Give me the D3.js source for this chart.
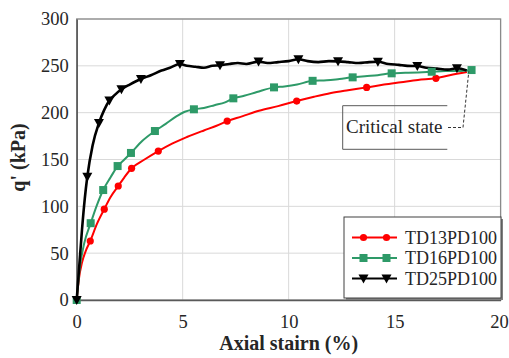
<!DOCTYPE html>
<html>
<head>
<meta charset="utf-8">
<script src="https://cdn.jsdelivr.net/npm/d3@7"></script>
<style>
  body { margin: 0; background: #ffffff; }
  svg { display: block; }
</style>
</head>
<body>
<svg id="chart" width="509" height="358"></svg>
<script>
// Axis ticks
const xTicks = [0, 5, 10, 15, 20];
const yTicks = [0, 50, 100, 150, 200, 250, 300];

// Series names and colours
const seriesNames = ['TD13PD100', 'TD16PD100', 'TD25PD100'];
const seriesColors = ['#ff0000', '#2e9a68', '#000000'];

// TD13PD100 - curve points [axial strain %, q' kPa] and marker points
const td13Curve = [[0,0],[0.1,22],[0.25,40],[0.42,52],[0.64,63],[0.95,81],[1.3,97],[1.6,110],[1.96,121.7],
  [2.25,131],[2.59,140.6],[3.2,150],[3.85,159],[4.5,167],[5.2,174],[6.0,181],[6.6,186],[7.1,191],[7.8,196],
  [8.6,202],[9.5,207],[10.38,212.4],[11.2,217],[12.0,221],[12.8,224],[13.68,227],[14.5,230],[15.3,232.5],
  [16.1,235],[16.95,236.7],[17.6,240],[18.41,243.4]];
const td13Markers = [[0,0],[0.64,63],[1.3,97],[1.96,121.7],[2.59,140.6],[3.85,159],[7.1,191],[10.38,212.4],
  [13.68,227],[16.95,236.7]];

// TD16PD100
const td16Curve = [[0,0],[0.15,35],[0.35,60],[0.66,82],[0.95,101],[1.25,117.4],[1.6,131],[1.93,143],[2.25,150],
  [2.56,157],[3.1,170],[3.69,180.4],[4.2,188],[4.7,196],[5.1,201],[5.53,203.6],[6.0,205],[6.5,208],[7.0,211],
  [7.39,215.3],[7.9,218],[8.5,222],[9.31,227],[9.8,228],[10.4,230],[11.13,234],[11.8,234.5],[12.4,236],
  [13.02,237.7],[13.6,239],[14.2,240],[14.86,242],[15.5,242.5],[16.1,243],[16.75,243.7],[17.4,244.5],
  [18.0,244.5],[18.63,245.5]];
const td16Markers = [[0,0],[0.66,82],[1.25,117.4],[1.93,143],[2.56,157],[3.69,180.4],[5.53,203.6],[7.39,215.3],
  [9.31,227],[11.13,234],[13.02,237.7],[14.86,242],[16.75,243.7],[18.63,245.5]];

// TD25PD100
const td25Curve = [[0,0],[0.1,30],[0.25,75],[0.38,108],[0.5,131.6],[0.75,165],[1.05,189],[1.3,203],[1.54,213],
  [1.8,219],[2.11,225],[2.5,230],[3.03,236],[3.5,240],[4.0,245],[4.4,248],[4.87,252],[5.2,250],[5.6,249],
  [6.0,248],[6.4,250],[6.76,250.5],[7.2,252],[7.6,253],[8.0,252],[8.58,254.5],[9.0,253],[9.5,254],[10.0,255],
  [10.46,257],[10.9,255],[11.4,254],[11.9,255],[12.33,254.8],[12.8,254],[13.3,253],[13.8,254],[14.21,254.3],
  [14.7,252],[15.2,251],[15.6,250],[16.07,249.8],[16.5,248],[17.0,247],[17.5,246],[17.94,247.4],[18.4,245]];
const td25Markers = [[0,0],[0.5,131.6],[1.05,189],[1.54,213],[2.11,225],[3.03,236],[4.87,252],[6.76,250.5],
  [8.58,254.5],[10.46,257],[12.33,254.8],[14.21,254.3],[16.07,249.8],[17.94,247.4]];

// Critical state point
const criticalPoint = [18.5, 244];

const curves = [td13Curve, td16Curve, td25Curve];
const markers = [td13Markers, td16Markers, td25Markers];

const font = 'Liberation Serif';
const svg = d3.select('#chart');
const margin = { top: 19, left: 76.7, right: 8.4, bottom: 58 };
const width = 509, height = 358;
const innerW = width - margin.left - margin.right;
const innerH = height - margin.top - margin.bottom;

const x = d3.scaleLinear().domain([0, 20]).range([0, innerW]);
const y = d3.scaleLinear().domain([0, 300]).range([innerH, 0]);

const g = svg.append('g').attr('transform', `translate(${margin.left},${margin.top})`);

// Gridlines
g.append('g').selectAll('line').data(xTicks.slice(1)).join('line')
  .attr('x1', d => x(d)).attr('x2', d => x(d)).attr('y1', 0).attr('y2', innerH)
  .attr('stroke', '#d9d9d9').attr('stroke-width', 1);
g.append('g').selectAll('line').data(yTicks.slice(1)).join('line')
  .attr('x1', 0).attr('x2', innerW).attr('y1', d => y(d)).attr('y2', d => y(d))
  .attr('stroke', '#d9d9d9').attr('stroke-width', 1);

// Frame
g.append('rect').attr('width', innerW).attr('height', innerH)
  .attr('fill', 'none').attr('stroke', '#8a8a8a').attr('stroke-width', 1.3);

// Axes
const xAxis = g.append('g').attr('transform', `translate(0,${innerH})`)
  .call(d3.axisBottom(x).tickValues(xTicks).tickSize(0).tickPadding(15));
const yAxis = g.append('g')
  .call(d3.axisLeft(y).tickValues(yTicks).tickSize(0).tickPadding(8));
[xAxis, yAxis].forEach(a => {
  a.select('.domain').attr('stroke', '#595959').attr('stroke-width', 1.5);
  a.selectAll('text').style('font-family', font).style('font-size', '18.5px').attr('fill', '#262626');
});
xAxis.selectAll('text').filter(d => d === 20).attr('dx', -1.5);

// Series lines
const line = d3.line().x(d => x(d[0])).y(d => y(d[1])).curve(d3.curveMonotoneX);
curves.forEach((c, i) => {
  g.append('path').datum(c).attr('d', line)
    .attr('fill', 'none').attr('stroke', seriesColors[i])
    .attr('stroke-width', i === 2 ? 2.6 : 2).attr('stroke-linejoin', 'round');
});

// Markers
function drawMarker(sel, i) {
  if (i === 0) {
    sel.append('circle').attr('r', 3.6).attr('fill', seriesColors[0]);
  } else if (i === 1) {
    sel.append('rect').attr('x', -4).attr('y', -4).attr('width', 8).attr('height', 8).attr('fill', seriesColors[1]);
  } else {
    sel.append('path').attr('d', 'M-5,-4L5,-4L0,5Z').attr('fill', seriesColors[2]);
  }
}
markers.forEach((m, i) => {
  m.forEach(p => {
    const mg = g.append('g').attr('transform', `translate(${x(p[0])},${y(p[1])})`);
    drawMarker(mg, i);
  });
});

// Axis titles
svg.append('text')
  .attr('x', margin.left + innerW / 2).attr('y', 350)
  .attr('text-anchor', 'middle')
  .style('font-family', font).style('font-size', '20px').style('font-weight', 'bold')
  .attr('fill', '#262626')
  .text('Axial stairn (%)');
svg.append('text')
  .attr('transform', `translate(25,${margin.top + innerH / 2 - 2}) rotate(-90)`)
  .attr('text-anchor', 'middle')
  .style('font-family', font).style('font-size', '20px').style('font-weight', 'bold')
  .attr('fill', '#262626')
  .text("q' (kPa)");

// Critical state callout
const cx = margin.left + x(criticalPoint[0]);
const cy = margin.top + y(criticalPoint[1]);
svg.append('path')
  .attr('d', 'M342.7,105.7H447.3M342.7,105.7V149.3M342.7,149.3H447.3')
  .attr('fill', 'none').attr('stroke', '#595959').attr('stroke-width', 1);
svg.append('text').attr('x', 346).attr('y', 133)
  .style('font-family', font).style('font-size', '19px')
  .attr('fill', '#262626').text('Critical state');
svg.append('path')
  .attr('d', `M448,127.5H463L${cx},${cy}`)
  .attr('fill', 'none').attr('stroke', '#333333').attr('stroke-width', 1)
  .attr('stroke-dasharray', '3,2');

// Legend
const legend = svg.append('g').attr('transform', 'translate(344,217)');
legend.append('rect').attr('x', 2).attr('y', 2).attr('width', 157).attr('height', 81).attr('fill', '#7f7f7f');
legend.append('rect').attr('width', 157).attr('height', 81)
  .attr('fill', '#ffffff').attr('stroke', '#404040').attr('stroke-width', 1);
seriesNames.forEach((name, i) => {
  const row = legend.append('g').attr('transform', `translate(0,${20.5 + i * 20.5})`);
  row.append('line').attr('x1', 8).attr('x2', 53).attr('stroke', seriesColors[i]).attr('stroke-width', 2);
  [19.5, 42.5].forEach(mx => drawMarker(row.append('g').attr('transform', `translate(${mx},0)`), i));
  row.append('text').attr('x', 61).attr('y', 6)
    .style('font-family', font).style('font-size', '18px')
    .attr('fill', '#262626').text(name);
});
</script>
</body>
</html>
